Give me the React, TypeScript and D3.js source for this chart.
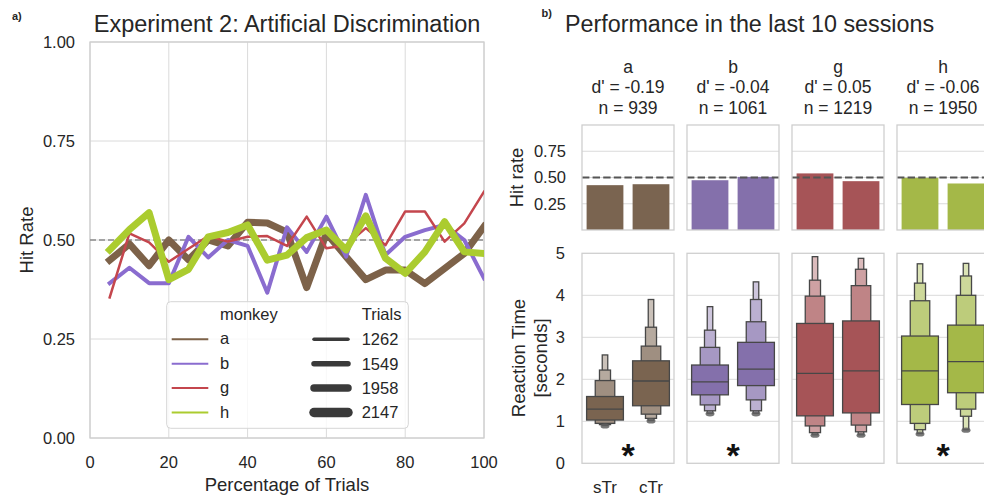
import React from 'react';
import * as d3 from 'd3';

// ---------- data ----------
const monkeys = ['a', 'b', 'g', 'h'];
const pct = [5, 10, 15, 20, 25, 30, 35, 40, 45, 50, 55, 60, 65, 70, 75, 80, 85, 90, 95, 100];
const hitA = [0.449, 0.49, 0.435, 0.5, 0.45, 0.5, 0.485, 0.545, 0.543, 0.52, 0.38, 0.517, 0.458, 0.4, 0.424, 0.424, 0.39, 0.428, 0.466, 0.534];
const hitB = [0.391, 0.43, 0.391, 0.391, 0.508, 0.456, 0.5, 0.485, 0.367, 0.532, 0.47, 0.559, 0.458, 0.614, 0.462, 0.508, 0.525, 0.538, 0.5, 0.403];
const hitG = [0.355, 0.517, 0.494, 0.445, 0.478, 0.51, 0.496, 0.508, 0.51, 0.485, 0.559, 0.479, 0.487, 0.53, 0.487, 0.572, 0.572, 0.496, 0.542, 0.622];
const hitH = [0.475, 0.526, 0.569, 0.4, 0.426, 0.508, 0.519, 0.538, 0.449, 0.462, 0.506, 0.525, 0.475, 0.561, 0.454, 0.416, 0.47, 0.546, 0.47, 0.466];
const trialLabels = ['1262', '1549', '1958', '2147'];
const xTicks = [0, 20, 40, 60, 80, 100];
const yTicks = [0, 0.25, 0.5, 0.75, 1];

const conditions = ['sTr', 'cTr'];
const dPrime = ['-0.19', '-0.04', '0.05', '-0.06'];
const nCounts = ['939', '1061', '1219', '1950'];
const hitRateS = [0.427, 0.474, 0.539, 0.497];
const hitRateC = [0.436, 0.506, 0.465, 0.443];
const hitTicks = [0.25, 0.5, 0.75];
const rtTicks = [0, 1, 2, 3, 4, 5];

const rtMedS = [1.29, 1.94, 2.14, 2.2];
const rtMedC = [1.96, 2.24, 2.2, 2.42];
const rtHiS = [[1.59, 1.97, 2.22, 2.58], [2.34, 2.76, 3.17, 3.73], [3.33, 3.98, 4.36, 4.92], [3.03, 3.87, 4.29, 4.75]];
const rtLoS = [[1.03, 0.95, 0.92, 0.9], [1.63, 1.39, 1.25, 1.19], [1.13, 0.89, 0.73, 0.68], [1.4, 0.95, 0.8, 0.71]];
const rtHiC = [[2.44, 2.79, 3.24, 3.9], [2.88, 3.37, 3.9, 4.32], [3.39, 4.23, 4.62, 4.88], [3.29, 4.0, 4.46, 4.76]];
const rtLoC = [[1.37, 1.17, 1.07, 1.02], [1.85, 1.51, 1.25, 1.19], [1.2, 0.91, 0.75, 0.68], [1.68, 1.29, 1.12, 0.8]];
const significant = [true, true, false, true];

// ---------- styles ----------
const lineColors = ['#7d6249', '#8a6ccf', '#c4464d', '#abcc2f'];
const lineWidths = [7, 4, 2.5, 7];
const trialWidths = [3.5, 5.5, 7.5, 9.5];
const barColors = ['#7a6450', '#8470ab', '#a65457', '#a4b848'];
const levelWidth = [1, 0.53, 0.3, 0.15];
const levelLight = [0, 0.28, 0.45, 0.6];

const FONT = "'Liberation Sans', Arial, Helvetica, sans-serif";
const TXT = '#262626';
const GRID = '#dadada';
const FRAME = '#cfcfcf';
const EDGE = '#474747';

export default function App() {
  const W = 984, H = 496;
  const x = d3.scaleLinear().domain([0, 100]).range([90, 484]);
  const y = d3.scaleLinear().domain([0, 1]).range([438, 42]);
  const series = [hitA, hitB, hitG, hitH];
  const line = d3.line<number>().x((_, i) => x(pct[i])).y(d => y(d)).curve(d3.curveLinear);

  const panels = d3.scaleBand<string>().domain(monkeys).range([582, 989]).paddingInner(13 / 105).paddingOuter(0);
  const pw = panels.bandwidth();
  const yTop = d3.scaleLinear().domain([0, 1]).range([230, 125]);
  const yBot = d3.scaleLinear().domain([0, 5]).range([463.3, 253.3]);

  const legendRows = [314.9, 339.3, 363.7, 388.1, 412.5];

  const boxen = (cx: number, bw: number, hi: number[], lo: number[], med: number, color: string, key: string) => {
    const parts: React.ReactNode[] = [];
    for (let k = 3; k >= 0; k--) {
      const w = bw * levelWidth[k];
      const fill = d3.interpolateRgb(color, '#ffffff')(levelLight[k]);
      parts.push(
        <rect key={key + 'l' + k} x={cx - w / 2} y={yBot(hi[k])} width={w} height={yBot(lo[k]) - yBot(hi[k])}
          fill={fill} stroke={EDGE} strokeWidth={1.3} />
      );
    }
    parts.push(<line key={key + 'm'} x1={cx - bw / 2} x2={cx + bw / 2} y1={yBot(med)} y2={yBot(med)} stroke={EDGE} strokeWidth={1.3} />);
    parts.push(<ellipse key={key + 'o'} cx={cx} cy={yBot(lo[3]) + 0.5} rx={4.5} ry={2.6} fill="#5f5f5f" opacity={0.85} />);
    return parts;
  };

  return (
    <svg width={W} height={H} viewBox={`0 0 ${W} ${H}`} style={{ position: 'absolute', left: 0, top: 0, display: 'block', background: '#fff' }}
      fontFamily={FONT}>
      <rect x={0} y={0} width={W} height={H} fill="#fff" />
      <defs>
        <clipPath id="clipLeft"><rect x={90} y={42} width={394} height={396} /></clipPath>
      </defs>

      {/* ---------- panel a ---------- */}
      <text x={12} y={20} fontSize={11} fontWeight="bold" fill={TXT}>a)</text>
      <text x={287} y={32} fontSize={23.5} textAnchor="middle" fill={TXT}>Experiment 2: Artificial Discrimination</text>
      {xTicks.map(t => <line key={'gx' + t} x1={x(t)} x2={x(t)} y1={42} y2={438} stroke={GRID} strokeWidth={1} />)}
      {yTicks.map(t => <line key={'gy' + t} x1={90} x2={484} y1={y(t)} y2={y(t)} stroke={GRID} strokeWidth={1} />)}
      <rect x={90} y={42} width={394} height={396} fill="none" stroke={FRAME} strokeWidth={1.3} />
      <line x1={90} x2={484} y1={y(0.5)} y2={y(0.5)} stroke="#8a8a8a" strokeWidth={1.5} strokeDasharray="6,3" />
      <g clipPath="url(#clipLeft)">
        {series.map((s, i) => (
          <path key={'ln' + i} d={line(s) || ''} fill="none" stroke={lineColors[i]} strokeWidth={lineWidths[i]}
            strokeLinejoin="round" strokeLinecap="square" />
        ))}
      </g>
      {yTicks.map(t => (
        <text key={'yl' + t} x={75} y={y(t) + 5.8} fontSize={16.5} textAnchor="end" fill={TXT}>{t.toFixed(2)}</text>
      ))}
      {xTicks.map(t => (
        <text key={'xl' + t} x={x(t)} y={467.5} fontSize={16.5} textAnchor="middle" fill={TXT}>{t}</text>
      ))}
      <text x={287} y={490.5} fontSize={18.5} textAnchor="middle" fill={TXT}>Percentage of Trials</text>
      <text transform="translate(33,240) rotate(-90)" fontSize={18.5} textAnchor="middle" fill={TXT}>Hit Rate</text>

      {/* legend */}
      <rect x={166.7} y={301.7} width={241.6} height={126.6} rx={4} fill="#fff" fillOpacity={0.8} stroke="#d6d6d6" strokeWidth={1} />
      <text x={220} y={legendRows[0] + 5} fontSize={16.5} fill={TXT}>monkey</text>
      <text x={361.7} y={legendRows[0] + 5} fontSize={16.5} fill={TXT}>Trials</text>
      {monkeys.map((m, i) => (
        <g key={'lg' + m}>
          <line x1={171.7} x2={208.3} y1={legendRows[i + 1]} y2={legendRows[i + 1]} stroke={lineColors[i]} strokeWidth={2} />
          <text x={220} y={legendRows[i + 1] + 5} fontSize={16.5} fill={TXT}>{m}</text>
          <line x1={314} x2={348} y1={legendRows[i + 1]} y2={legendRows[i + 1]} stroke="#3a3a3a" strokeWidth={trialWidths[i]} strokeLinecap="round" />
          <text x={361.7} y={legendRows[i + 1] + 5.8} fontSize={16.5} fill={TXT}>{trialLabels[i]}</text>
        </g>
      ))}

      {/* ---------- panel b ---------- */}
      <text x={541.5} y={17} fontSize={11} fontWeight="bold" fill={TXT}>b)</text>
      <text x={565} y={32} fontSize={23.3} fill={TXT}>Performance in the last 10 sessions</text>

      {monkeys.map((m, i) => {
        const left = panels(m) as number;
        const cx = left + pw / 2;
        const xb = d3.scaleBand<string>().domain(conditions).range([left, left + pw]).paddingInner(0.2).paddingOuter(0.1);
        const bw = xb.bandwidth();
        const hits = [hitRateS[i], hitRateC[i]];
        return (
          <g key={'p' + m}>
            <text x={cx} y={72.5} fontSize={17.5} textAnchor="middle" fill={TXT}>{m}</text>
            <text x={cx} y={93} fontSize={17.5} textAnchor="middle" fill={TXT}>{`d' = ${dPrime[i]}`}</text>
            <text x={cx} y={113.5} fontSize={17.5} textAnchor="middle" fill={TXT}>{`n = ${nCounts[i]}`}</text>

            {hitTicks.map(t => <line key={'ht' + t} x1={left} x2={left + pw} y1={yTop(t)} y2={yTop(t)} stroke={GRID} strokeWidth={1} />)}
            {conditions.map((c, j) => (
              <rect key={'bar' + c} x={xb(c)} y={yTop(hits[j])} width={bw} height={yTop(0) - yTop(hits[j])} fill={barColors[i]} />
            ))}
            <line x1={left} x2={left + pw} y1={yTop(0.5)} y2={yTop(0.5)} stroke="#555" strokeWidth={2} strokeDasharray="7.4,3.2" />
            <rect x={left} y={yTop(1)} width={pw} height={yTop(0) - yTop(1)} fill="none" stroke={FRAME} strokeWidth={1.3} />

            {rtTicks.slice(1, 5).map(t => <line key={'rt' + t} x1={left} x2={left + pw} y1={yBot(t)} y2={yBot(t)} stroke={GRID} strokeWidth={1} />)}
            {boxen((xb('sTr') as number) + bw / 2, bw, rtHiS[i], rtLoS[i], rtMedS[i], barColors[i], m + 's')}
            {boxen((xb('cTr') as number) + bw / 2, bw, rtHiC[i], rtLoC[i], rtMedC[i], barColors[i], m + 'c')}
            <rect x={left} y={yBot(5)} width={pw} height={yBot(0) - yBot(5)} fill="none" stroke={FRAME} strokeWidth={1.3} />
            {significant[i] && (
              <text x={cx} y={467} fontSize={34} fontWeight="bold" textAnchor="middle" fill="#111">*</text>
            )}
            {i === 0 && conditions.map(c => (
              <text key={'cl' + c} x={(xb(c) as number) + bw / 2} y={492.5} fontSize={17} textAnchor="middle" fill={TXT}>{c}</text>
            ))}
          </g>
        );
      })}

      {hitTicks.map(t => (
        <text key={'hl' + t} x={566} y={yTop(t) + 5.8} fontSize={16.5} textAnchor="end" fill={TXT}>{t.toFixed(2)}</text>
      ))}
      {rtTicks.map(t => (
        <text key={'rl' + t} x={565} y={yBot(t) + 5.8} fontSize={16.5} textAnchor="end" fill={TXT}>{t}</text>
      ))}
      <text transform="translate(523,177.5) rotate(-90)" fontSize={18.5} textAnchor="middle" fill={TXT}>Hit rate</text>
      <text transform="translate(525,358) rotate(-90)" fontSize={18.5} textAnchor="middle" fill={TXT}>Reaction Time</text>
      <text transform="translate(547,358) rotate(-90)" fontSize={18.5} textAnchor="middle" fill={TXT}>[seconds]</text>
    </svg>
  );
}
